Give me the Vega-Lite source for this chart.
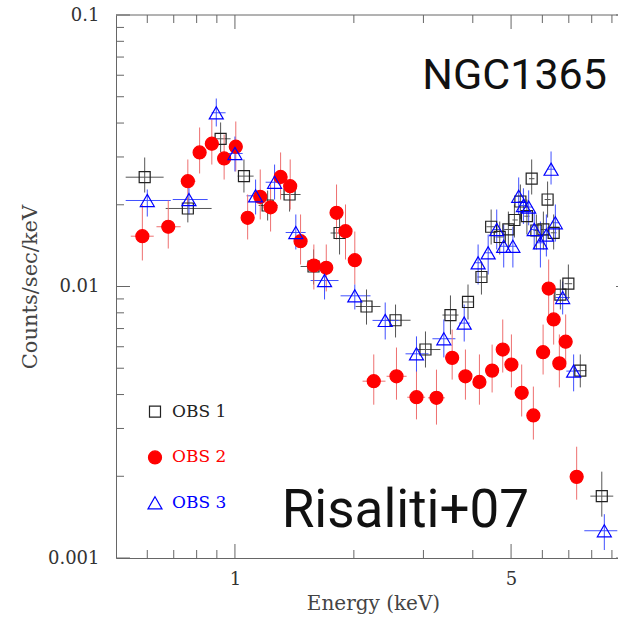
{
  "$schema": "https://vega.github.io/schema/vega-lite/v6.json",
  "width": 502,
  "height": 543,
  "autosize": {"type": "none"},
  "padding": {"left": 116, "top": 15, "right": 0, "bottom": 60},
  "background": "white",
  "datasets": {
    "pts": [
      {"obs":"OBS 1","E":0.591,"Elo":0.529,"Ehi":0.66,"y":0.02527,"ylo":0.02219,"yhi":0.02986},
      {"obs":"OBS 1","E":0.76,"Elo":0.668,"Ehi":0.873,"y":0.01938,"ylo":0.01722,"yhi":0.02127},
      {"obs":"OBS 1","E":0.92,"Elo":0.894,"Ehi":0.975,"y":0.035,"ylo":0.0312,"yhi":0.0402},
      {"obs":"OBS 1","E":1.054,"Elo":1.016,"Ehi":1.115,"y":0.0255,"ylo":0.02219,"yhi":0.02937},
      {"obs":"OBS 1","E":1.21,"Elo":1.148,"Ehi":1.282,"y":0.01988,"ylo":0.0175,"yhi":0.02257},
      {"obs":"OBS 1","E":1.375,"Elo":1.305,"Ehi":1.466,"y":0.02182,"ylo":0.01888,"yhi":0.02477},
      {"obs":"OBS 1","E":1.581,"Elo":1.466,"Ehi":1.696,"y":0.01185,"ylo":0.01017,"yhi":0.01369},
      {"obs":"OBS 1","E":1.84,"Elo":1.746,"Ehi":1.94,"y":0.01574,"ylo":0.01312,"yhi":0.01842},
      {"obs":"OBS 1","E":2.153,"Elo":2.02,"Ehi":2.336,"y":0.00844,"ylo":0.00724,"yhi":0.00975},
      {"obs":"OBS 1","E":2.55,"Elo":2.405,"Ehi":2.783,"y":0.00751,"ylo":0.00649,"yhi":0.00858},
      {"obs":"OBS 1","E":3.036,"Elo":2.864,"Ehi":3.313,"y":0.00586,"ylo":0.00503,"yhi":0.00683},
      {"obs":"OBS 1","E":3.512,"Elo":3.352,"Ehi":3.68,"y":0.00785,"ylo":0.00666,"yhi":0.00927},
      {"obs":"OBS 1","E":3.89,"Elo":3.767,"Ehi":4.015,"y":0.00877,"ylo":0.00756,"yhi":0.01017},
      {"obs":"OBS 1","E":4.207,"Elo":4.11,"Ehi":4.331,"y":0.01084,"ylo":0.00934,"yhi":0.01236},
      {"obs":"OBS 1","E":4.452,"Elo":4.331,"Ehi":4.565,"y":0.0166,"ylo":0.01428,"yhi":0.01921},
      {"obs":"OBS 1","E":4.68,"Elo":4.565,"Ehi":4.8,"y":0.01522,"ylo":0.01312,"yhi":0.01735},
      {"obs":"OBS 1","E":4.922,"Elo":4.8,"Ehi":5.04,"y":0.01622,"ylo":0.01369,"yhi":0.01888},
      {"obs":"OBS 1","E":5.098,"Elo":5.04,"Ehi":5.2,"y":0.01758,"ylo":0.01515,"yhi":0.02005},
      {"obs":"OBS 1","E":5.279,"Elo":5.2,"Ehi":5.36,"y":0.02056,"ylo":0.01766,"yhi":0.02375},
      {"obs":"OBS 1","E":5.483,"Elo":5.4,"Ehi":5.57,"y":0.01815,"ylo":0.01554,"yhi":0.02091},
      {"obs":"OBS 1","E":5.638,"Elo":5.55,"Ehi":5.73,"y":0.02495,"ylo":0.02182,"yhi":0.02937},
      {"obs":"OBS 1","E":5.794,"Elo":5.7,"Ehi":5.89,"y":0.01608,"ylo":0.01369,"yhi":0.01842},
      {"obs":"OBS 1","E":6.036,"Elo":5.93,"Ehi":6.15,"y":0.01622,"ylo":0.01369,"yhi":0.01888},
      {"obs":"OBS 1","E":6.186,"Elo":6.08,"Ehi":6.3,"y":0.02091,"ylo":0.01795,"yhi":0.02436},
      {"obs":"OBS 1","E":6.409,"Elo":6.3,"Ehi":6.52,"y":0.01577,"ylo":0.01369,"yhi":0.01842},
      {"obs":"OBS 1","E":6.664,"Elo":6.5,"Ehi":6.85,"y":0.00934,"ylo":0.00823,"yhi":0.01061},
      {"obs":"OBS 1","E":6.982,"Elo":6.83,"Ehi":7.14,"y":0.01024,"ylo":0.00896,"yhi":0.01205},
      {"obs":"OBS 1","E":7.485,"Elo":7.25,"Ehi":7.75,"y":0.0049,"ylo":0.00425,"yhi":0.00562},
      {"obs":"OBS 1","E":8.484,"Elo":7.937,"Ehi":9.07,"y":0.00169,"ylo":0.00142,"yhi":0.00208},

      {"obs":"OBS 2","E":0.583,"Elo":0.545,"Ehi":0.623,"y":0.01532,"ylo":0.01247,"yhi":0.02005},
      {"obs":"OBS 2","E":0.678,"Elo":0.633,"Ehi":0.729,"y":0.0166,"ylo":0.0138,"yhi":0.02074},
      {"obs":"OBS 2","E":0.76,"Elo":0.729,"Ehi":0.795,"y":0.02442,"ylo":0.02005,"yhi":0.02937},
      {"obs":"OBS 2","E":0.814,"Elo":0.785,"Ehi":0.845,"y":0.03117,"ylo":0.02608,"yhi":0.03852},
      {"obs":"OBS 2","E":0.874,"Elo":0.845,"Ehi":0.905,"y":0.03357,"ylo":0.02813,"yhi":0.04122},
      {"obs":"OBS 2","E":0.939,"Elo":0.91,"Ehi":0.97,"y":0.02962,"ylo":0.02477,"yhi":0.03629},
      {"obs":"OBS 2","E":1.005,"Elo":0.97,"Ehi":1.04,"y":0.03272,"ylo":0.02652,"yhi":0.04053},
      {"obs":"OBS 2","E":1.077,"Elo":1.04,"Ehi":1.115,"y":0.01791,"ylo":0.0149,"yhi":0.02182},
      {"obs":"OBS 2","E":1.159,"Elo":1.12,"Ehi":1.2,"y":0.02139,"ylo":0.01766,"yhi":0.02698},
      {"obs":"OBS 2","E":1.231,"Elo":1.19,"Ehi":1.27,"y":0.01957,"ylo":0.01594,"yhi":0.02375},
      {"obs":"OBS 2","E":1.305,"Elo":1.265,"Ehi":1.345,"y":0.02533,"ylo":0.02091,"yhi":0.03117},
      {"obs":"OBS 2","E":1.38,"Elo":1.34,"Ehi":1.42,"y":0.02341,"ylo":0.01921,"yhi":0.02937},
      {"obs":"OBS 2","E":1.466,"Elo":1.42,"Ehi":1.51,"y":0.01468,"ylo":0.01205,"yhi":0.01842},
      {"obs":"OBS 2","E":1.584,"Elo":1.53,"Ehi":1.64,"y":0.01195,"ylo":0.00975,"yhi":0.01428},
      {"obs":"OBS 2","E":1.703,"Elo":1.65,"Ehi":1.76,"y":0.01172,"ylo":0.00959,"yhi":0.01428},
      {"obs":"OBS 2","E":1.808,"Elo":1.76,"Ehi":1.86,"y":0.01868,"ylo":0.0149,"yhi":0.02375},
      {"obs":"OBS 2","E":1.905,"Elo":1.86,"Ehi":1.955,"y":0.01598,"ylo":0.01257,"yhi":0.02005},
      {"obs":"OBS 2","E":2.011,"Elo":1.96,"Ehi":2.06,"y":0.0125,"ylo":0.01017,"yhi":0.01594},
      {"obs":"OBS 2","E":2.246,"Elo":2.104,"Ehi":2.405,"y":0.00448,"ylo":0.00367,"yhi":0.00562},
      {"obs":"OBS 2","E":2.564,"Elo":2.42,"Ehi":2.72,"y":0.00467,"ylo":0.00383,"yhi":0.00596},
      {"obs":"OBS 2","E":2.881,"Elo":2.73,"Ehi":3.03,"y":0.00391,"ylo":0.00324,"yhi":0.00494},
      {"obs":"OBS 2","E":3.237,"Elo":3.08,"Ehi":3.4,"y":0.00389,"ylo":0.0031,"yhi":0.00494},
      {"obs":"OBS 2","E":3.547,"Elo":3.44,"Ehi":3.66,"y":0.00546,"ylo":0.00454,"yhi":0.00694},
      {"obs":"OBS 2","E":3.832,"Elo":3.72,"Ehi":3.95,"y":0.00467,"ylo":0.00383,"yhi":0.00586},
      {"obs":"OBS 2","E":4.158,"Elo":4.06,"Ehi":4.26,"y":0.00445,"ylo":0.00367,"yhi":0.00562},
      {"obs":"OBS 2","E":4.477,"Elo":4.37,"Ehi":4.58,"y":0.0049,"ylo":0.00407,"yhi":0.00611},
      {"obs":"OBS 2","E":4.763,"Elo":4.66,"Ehi":4.87,"y":0.00586,"ylo":0.00482,"yhi":0.00756},
      {"obs":"OBS 2","E":5.01,"Elo":4.9,"Ehi":5.12,"y":0.00516,"ylo":0.00425,"yhi":0.00666},
      {"obs":"OBS 2","E":5.319,"Elo":5.21,"Ehi":5.43,"y":0.00406,"ylo":0.00332,"yhi":0.00516},
      {"obs":"OBS 2","E":5.694,"Elo":5.58,"Ehi":5.81,"y":0.00335,"ylo":0.00273,"yhi":0.00428},
      {"obs":"OBS 2","E":6.026,"Elo":5.9,"Ehi":6.15,"y":0.00573,"ylo":0.00474,"yhi":0.00724},
      {"obs":"OBS 2","E":6.225,"Elo":6.1,"Ehi":6.35,"y":0.00983,"ylo":0.00769,"yhi":0.01257},
      {"obs":"OBS 2","E":6.409,"Elo":6.28,"Ehi":6.54,"y":0.00756,"ylo":0.00611,"yhi":0.00934},
      {"obs":"OBS 2","E":6.625,"Elo":6.49,"Ehi":6.76,"y":0.00521,"ylo":0.00425,"yhi":0.00666},
      {"obs":"OBS 2","E":6.873,"Elo":6.73,"Ehi":7.02,"y":0.00626,"ylo":0.00503,"yhi":0.00789},
      {"obs":"OBS 2","E":7.328,"Elo":7.16,"Ehi":7.5,"y":0.00199,"ylo":0.00164,"yhi":0.00257},

      {"obs":"OBS 3","E":0.6,"Elo":0.529,"Ehi":0.688,"y":0.02074,"ylo":0.0181,"yhi":0.02277},
      {"obs":"OBS 3","E":0.765,"Elo":0.696,"Ehi":0.853,"y":0.02091,"ylo":0.01842,"yhi":0.02375},
      {"obs":"OBS 3","E":0.897,"Elo":0.873,"Ehi":0.947,"y":0.04364,"ylo":0.03885,"yhi":0.04925},
      {"obs":"OBS 3","E":1.0,"Elo":0.964,"Ehi":1.046,"y":0.0309,"ylo":0.02652,"yhi":0.03568},
      {"obs":"OBS 3","E":1.128,"Elo":1.07,"Ehi":1.196,"y":0.02158,"ylo":0.01842,"yhi":0.02477},
      {"obs":"OBS 3","E":1.26,"Elo":1.196,"Ehi":1.328,"y":0.02421,"ylo":0.02091,"yhi":0.02813},
      {"obs":"OBS 3","E":1.426,"Elo":1.344,"Ehi":1.51,"y":0.01581,"ylo":0.01369,"yhi":0.01842},
      {"obs":"OBS 3","E":1.686,"Elo":1.554,"Ehi":1.829,"y":0.01052,"ylo":0.00896,"yhi":0.01205},
      {"obs":"OBS 3","E":2.011,"Elo":1.851,"Ehi":2.204,"y":0.00924,"ylo":0.00823,"yhi":0.01017},
      {"obs":"OBS 3","E":2.401,"Elo":2.23,"Ehi":2.595,"y":0.0075,"ylo":0.00638,"yhi":0.00873},
      {"obs":"OBS 3","E":2.881,"Elo":2.703,"Ehi":3.09,"y":0.00565,"ylo":0.00486,"yhi":0.00655},
      {"obs":"OBS 3","E":3.379,"Elo":3.162,"Ehi":3.615,"y":0.00642,"ylo":0.00548,"yhi":0.00756},
      {"obs":"OBS 3","E":3.805,"Elo":3.69,"Ehi":3.93,"y":0.00733,"ylo":0.00627,"yhi":0.00858},
      {"obs":"OBS 3","E":4.126,"Elo":4.03,"Ehi":4.23,"y":0.01223,"ylo":0.01017,"yhi":0.01428},
      {"obs":"OBS 3","E":4.375,"Elo":4.27,"Ehi":4.48,"y":0.01331,"ylo":0.01107,"yhi":0.01554},
      {"obs":"OBS 3","E":4.599,"Elo":4.49,"Ehi":4.71,"y":0.01622,"ylo":0.01369,"yhi":0.01921},
      {"obs":"OBS 3","E":4.79,"Elo":4.68,"Ehi":4.9,"y":0.01407,"ylo":0.01175,"yhi":0.01691},
      {"obs":"OBS 3","E":5.053,"Elo":4.94,"Ehi":5.17,"y":0.01407,"ylo":0.01175,"yhi":0.0166},
      {"obs":"OBS 3","E":5.227,"Elo":5.11,"Ehi":5.34,"y":0.0215,"ylo":0.01842,"yhi":0.02522},
      {"obs":"OBS 3","E":5.373,"Elo":5.26,"Ehi":5.49,"y":0.01988,"ylo":0.017,"yhi":0.023},
      {"obs":"OBS 3","E":5.54,"Elo":5.42,"Ehi":5.66,"y":0.01962,"ylo":0.0168,"yhi":0.0226},
      {"obs":"OBS 3","E":5.722,"Elo":5.6,"Ehi":5.85,"y":0.01622,"ylo":0.01369,"yhi":0.01888},
      {"obs":"OBS 3","E":5.932,"Elo":5.8,"Ehi":6.07,"y":0.01449,"ylo":0.01175,"yhi":0.01735},
      {"obs":"OBS 3","E":6.142,"Elo":6.01,"Ehi":6.28,"y":0.01546,"ylo":0.0129,"yhi":0.01842},
      {"obs":"OBS 3","E":6.312,"Elo":6.17,"Ehi":6.45,"y":0.02704,"ylo":0.02375,"yhi":0.03143},
      {"obs":"OBS 3","E":6.472,"Elo":6.33,"Ehi":6.62,"y":0.01717,"ylo":0.01464,"yhi":0.02005},
      {"obs":"OBS 3","E":6.754,"Elo":6.48,"Ehi":7.04,"y":0.00911,"ylo":0.00789,"yhi":0.01043},
      {"obs":"OBS 3","E":7.2,"Elo":6.9,"Ehi":7.5,"y":0.00488,"ylo":0.00411,"yhi":0.00562},
      {"obs":"OBS 3","E":8.61,"Elo":7.662,"Ehi":9.288,"y":0.00126,"ylo":0.00107,"yhi":0.00145}
    ],
    "leg": [
      {"obs": "OBS 1", "E": 0.6276, "y": 0.003463},
      {"obs": "OBS 2", "E": 0.6276, "y": 0.002346},
      {"obs": "OBS 3", "E": 0.6276, "y": 0.001597}
    ],
    "xmaj": [{"v": 1}, {"v": 5}],
    "xmin": [{"v": 0.6}, {"v": 0.7}, {"v": 0.8}, {"v": 0.9}, {"v": 2}, {"v": 3}, {"v": 4}, {"v": 6}, {"v": 7}, {"v": 8}, {"v": 9}],
    "ymaj": [{"v": 0.001}, {"v": 0.01}, {"v": 0.1}],
    "ymin": [{"v": 0.002}, {"v": 0.003}, {"v": 0.004}, {"v": 0.005}, {"v": 0.006}, {"v": 0.007}, {"v": 0.008}, {"v": 0.009}, {"v": 0.02}, {"v": 0.03}, {"v": 0.04}, {"v": 0.05}, {"v": 0.06}, {"v": 0.07}, {"v": 0.08}, {"v": 0.09}],
    "ann1": [{"label": "NGC1365", "E": 2.98, "y": 0.0536}],
    "ann2": [{"label": "Risaliti+07", "E": 1.313, "y": 0.0013}]
  },
  "resolve": {"axis": {"x": "independent", "y": "independent"}},
  "layer": [
    {
      "data": {"name": "pts"},
      "mark": {"type": "rule", "strokeWidth": 1},
      "encoding": {
        "x": {
          "field": "Elo", "type": "quantitative",
          "scale": {"type": "log", "domain": [0.5, 10], "range": [0, 514], "nice": false},
          "axis": {
            "orient": "bottom", "values": [1, 5], "format": "~g",
            "ticks": false, "labelPadding": 12,
            "labelFont": "DejaVu Serif", "labelFontSize": 18, "labelColor": "#333",
            "labelFlush": false, "labelOverlap": false, "labelBound": false,
            "title": "Energy (keV)",
            "titleFont": "DejaVu Serif", "titleFontSize": 20, "titleFontWeight": "normal", "titleColor": "#444",
            "titlePadding": 5,
            "domainColor": "#666", "grid": false
          }
        },
        "x2": {"field": "Ehi"},
        "y": {
          "field": "y", "type": "quantitative",
          "scale": {"type": "log", "domain": [0.001, 0.1], "nice": false},
          "axis": {
            "orient": "left", "values": [0.001, 0.01, 0.1], "format": "~g",
            "ticks": false, "labelPadding": 17,
            "labelFont": "DejaVu Serif", "labelFontSize": 18, "labelColor": "#333",
            "labelFlush": false, "labelOverlap": false, "labelBound": false,
            "title": "Counts/sec/keV",
            "titleFont": "DejaVu Serif", "titleFontSize": 21, "titleFontWeight": "normal", "titleColor": "#444",
            "titlePadding": 7,
            "domainColor": "#666", "grid": false
          }
        },
        "stroke": {
          "field": "obs", "type": "nominal",
          "scale": {"domain": ["OBS 1", "OBS 2", "OBS 3"], "range": ["#555555", "#ee7070", "#4050ff"]},
          "legend": null
        }
      }
    },
    {
      "data": {"name": "pts"},
      "mark": {"type": "rule", "strokeWidth": 1},
      "encoding": {
        "x": {"field": "E", "type": "quantitative", "axis": null},
        "y": {"field": "ylo", "type": "quantitative", "axis": null},
        "y2": {"field": "yhi"},
        "stroke": {"field": "obs", "type": "nominal", "legend": null}
      }
    },
    {
      "data": {"name": "xmaj"},
      "mark": {"type": "tick", "orient": "vertical", "size": 14, "thickness": 1, "color": "#666", "opacity": 1, "yOffset": -7},
      "encoding": {
        "x": {"field": "v", "type": "quantitative", "axis": null},
        "y": {"datum": 0.001, "type": "quantitative", "axis": null}
      }
    },
    {
      "data": {"name": "xmin"},
      "mark": {"type": "tick", "orient": "vertical", "size": 8, "thickness": 1, "color": "#666", "opacity": 1, "yOffset": -4},
      "encoding": {
        "x": {"field": "v", "type": "quantitative", "axis": null},
        "y": {"datum": 0.001, "type": "quantitative", "axis": null}
      }
    },
    {
      "data": {"name": "xmaj"},
      "mark": {"type": "tick", "orient": "vertical", "size": 14, "thickness": 1, "color": "#666", "opacity": 1, "yOffset": 7},
      "encoding": {
        "x": {"field": "v", "type": "quantitative", "axis": null},
        "y": {"datum": 0.1, "type": "quantitative", "axis": null}
      }
    },
    {
      "data": {"name": "xmin"},
      "mark": {"type": "tick", "orient": "vertical", "size": 8, "thickness": 1, "color": "#666", "opacity": 1, "yOffset": 4},
      "encoding": {
        "x": {"field": "v", "type": "quantitative", "axis": null},
        "y": {"datum": 0.1, "type": "quantitative", "axis": null}
      }
    },
    {
      "data": {"name": "ymaj"},
      "mark": {"type": "tick", "orient": "horizontal", "size": 14, "thickness": 1, "color": "#666", "opacity": 1, "xOffset": 7},
      "encoding": {
        "y": {"field": "v", "type": "quantitative", "axis": null},
        "x": {"datum": 0.5, "type": "quantitative", "axis": null}
      }
    },
    {
      "data": {"name": "ymin"},
      "mark": {"type": "tick", "orient": "horizontal", "size": 8, "thickness": 1, "color": "#666", "opacity": 1, "xOffset": 4},
      "encoding": {
        "y": {"field": "v", "type": "quantitative", "axis": null},
        "x": {"datum": 0.5, "type": "quantitative", "axis": null}
      }
    },
    {
      "data": {"name": "ymaj"},
      "mark": {"type": "tick", "orient": "horizontal", "size": 14, "thickness": 1, "color": "#666", "opacity": 1, "xOffset": -7},
      "encoding": {
        "y": {"field": "v", "type": "quantitative", "axis": null},
        "x": {"datum": 10, "type": "quantitative", "axis": null}
      }
    },
    {
      "data": {"name": "ymaj"},
      "mark": {"type": "rule", "strokeWidth": 1, "color": "#666"},
      "transform": [{"filter": "datum.v == 0.1"}],
      "encoding": {
        "y": {"field": "v", "type": "quantitative", "axis": null},
        "x": {"datum": 0.5, "type": "quantitative", "axis": null},
        "x2": {"datum": 10}
      }
    },
    {
      "data": {"name": "pts"},
      "mark": {"type": "point", "filled": false, "opacity": 1, "size": 196, "strokeWidth": 1.2},
      "encoding": {
        "x": {"field": "E", "type": "quantitative", "axis": null},
        "y": {"field": "y", "type": "quantitative", "axis": null},
        "shape": {
          "field": "obs", "type": "nominal",
          "scale": {"domain": ["OBS 1", "OBS 2", "OBS 3"], "range": ["M-0.786,-0.786H0.786V0.786H-0.786Z", "M-0.93,0A0.93,0.93,0,1,0,0.93,0A0.93,0.93,0,1,0,-0.93,0Z", "M0,-0.866L1,0.866L-1,0.866Z"]},
          "legend": null
        },
        "color": {
          "field": "obs", "type": "nominal",
          "scale": {"domain": ["OBS 1", "OBS 2", "OBS 3"], "range": ["#222222", "#ff0000", "#0000ff"]},
          "legend": null
        },
        "fill": {
          "field": "obs", "type": "nominal",
          "scale": {"domain": ["OBS 1", "OBS 2", "OBS 3"], "range": ["transparent", "#ff0000", "transparent"]},
          "legend": null
        }
      }
    },
    {
      "data": {"name": "leg"},
      "mark": {"type": "point", "filled": false, "opacity": 1, "size": 196, "strokeWidth": 1.2},
      "encoding": {
        "x": {"field": "E", "type": "quantitative", "axis": null},
        "y": {"field": "y", "type": "quantitative", "axis": null},
        "shape": {"field": "obs", "type": "nominal", "legend": null},
        "color": {"field": "obs", "type": "nominal", "legend": null},
        "fill": {"field": "obs", "type": "nominal", "legend": null}
      }
    },
    {
      "data": {"name": "leg"},
      "mark": {"type": "text", "font": "DejaVu Serif", "fontSize": 17, "align": "left", "baseline": "middle", "dx": 17},
      "encoding": {
        "x": {"field": "E", "type": "quantitative", "axis": null},
        "y": {"field": "y", "type": "quantitative", "axis": null},
        "text": {"field": "obs"},
        "color": {"field": "obs", "type": "nominal", "legend": null}
      }
    },
    {
      "data": {"name": "ann1"},
      "mark": {"type": "text", "font": "Roboto", "fontSize": 43, "align": "left", "baseline": "alphabetic", "color": "#111"},
      "encoding": {
        "x": {"field": "E", "type": "quantitative", "axis": null},
        "y": {"field": "y", "type": "quantitative", "axis": null},
        "text": {"field": "label"}
      }
    },
    {
      "data": {"name": "ann2"},
      "mark": {"type": "text", "font": "Roboto", "fontSize": 53, "align": "left", "baseline": "alphabetic", "color": "#111"},
      "encoding": {
        "x": {"field": "E", "type": "quantitative", "axis": null},
        "y": {"field": "y", "type": "quantitative", "axis": null},
        "text": {"field": "label"}
      }
    }
  ],
  "config": {
    "view": {"stroke": null},
    "axis": {"grid": false}
  }
}
